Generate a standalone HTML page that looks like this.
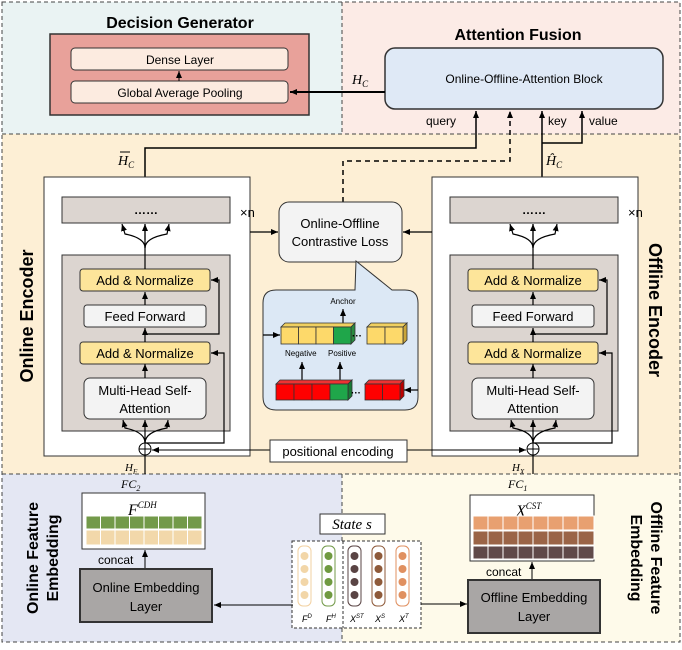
<!DOCTYPE html>
<html><head><meta charset="utf-8"><style>
body{margin:0;background:#fff}
svg text{font-family:"Liberation Sans",sans-serif}
.s{font-family:"Liberation Serif",serif;font-style:italic}
</style></head><body>
<svg width="682" height="645" viewBox="0 0 682 645" xmlns="http://www.w3.org/2000/svg">
<defs>
<marker id="a" markerWidth="8" markerHeight="8" refX="7" refY="4" orient="auto" markerUnits="userSpaceOnUse"><path d="M0,1 L7,4 L0,7z" fill="#000"/></marker>
</defs>
<rect x="2" y="2" width="340" height="132" fill="#eaf3f3"/>
<rect x="342" y="2" width="338" height="132" fill="#fcebe6"/>
<rect x="2" y="134" width="678" height="340" fill="#fdefd5"/>
<rect x="2" y="474" width="340" height="168" fill="#e4e7f3"/>
<rect x="342" y="474" width="338" height="168" fill="#fefaea"/>
<g fill="none" stroke="#444" stroke-dasharray="4,3" stroke-width="1">
<rect x="2" y="2" width="678" height="640"/>
<line x1="2" y1="134" x2="680" y2="134"/>
<line x1="342" y1="2" x2="342" y2="134"/>
<line x1="2" y1="474" x2="680" y2="474"/>
<line x1="342" y1="474" x2="342" y2="642"/>
</g>
<text x="180" y="28" font-size="16" font-weight="bold" text-anchor="middle">Decision Generator</text>
<rect x="50" y="34" width="259" height="81" fill="#e8a19a" stroke="#333" stroke-width="1.5"/>
<rect x="71" y="48" width="217" height="22" rx="4" fill="#fcebe0" stroke="#333"/>
<text x="180" y="64" font-size="12" text-anchor="middle">Dense Layer</text>
<rect x="71" y="81" width="217" height="22" rx="4" fill="#fcebe0" stroke="#333"/>
<text x="180" y="97" font-size="12" text-anchor="middle">Global Average Pooling</text>
<line x1="179" y1="81" x2="179" y2="71" stroke="#000" marker-end="url(#a)"/>
<text x="518" y="40" font-size="16" font-weight="bold" text-anchor="middle">Attention Fusion</text>
<rect x="385" y="48" width="278" height="61" rx="10" fill="#dfe9f6" stroke="#333" stroke-width="1.5"/>
<text x="524" y="83" font-size="12" text-anchor="middle">Online-Offline-Attention Block</text>
<line x1="385" y1="92" x2="290" y2="92" stroke="#000" stroke-width="2" marker-end="url(#a)"/>
<text x="352" y="84" font-size="14" class="s">H<tspan font-size="9" dy="3">C</tspan></text>
<text x="426" y="125" font-size="12">query</text>
<text x="548" y="125" font-size="12">key</text>
<text x="589" y="125" font-size="12">value</text>
<polyline points="145,177 145,148 476,148 476,111" fill="none" stroke="#000" stroke-width="1.5" marker-end="url(#a)"/>
<polyline points="343,202 343,161 510,161 510,111" fill="none" stroke="#000" stroke-width="1.5" stroke-dasharray="5,4" marker-end="url(#a)"/>
<polyline points="542,177 542,111" fill="none" stroke="#000" stroke-width="1.5" marker-end="url(#a)"/>
<polyline points="542,143 582,143 582,111" fill="none" stroke="#000" stroke-width="1.5" marker-end="url(#a)"/>
<text x="118" y="165" font-size="14" class="s">H<tspan font-size="9" dy="3">C</tspan></text>
<line x1="120" y1="152" x2="130" y2="152" stroke="#000"/>
<text x="546" y="165" font-size="14" class="s">Ĥ<tspan font-size="9" dy="3">C</tspan></text>

<g id="enc">
<rect x="44" y="177" width="206" height="279" fill="#fff" stroke="#333"/>
<rect x="62" y="197" width="168" height="26" fill="#dcd5d0" stroke="#333"/>
<text x="146" y="214" font-size="12" font-weight="bold" text-anchor="middle">……</text>
<rect x="62" y="255" width="168" height="176" fill="#dcd5d0" stroke="#333"/>
<rect x="80" y="269" width="130" height="22" rx="3" fill="#fde59a" stroke="#333"/>
<text x="145" y="285" font-size="13" text-anchor="middle">Add &amp; Normalize</text>
<rect x="84" y="305" width="122" height="22" rx="3" fill="#f3f3f3" stroke="#333"/>
<text x="145" y="321" font-size="13" text-anchor="middle">Feed Forward</text>
<rect x="80" y="342" width="130" height="22" rx="3" fill="#fde59a" stroke="#333"/>
<text x="145" y="358" font-size="13" text-anchor="middle">Add &amp; Normalize</text>
<rect x="84" y="378" width="122" height="41" rx="6" fill="#f3f3f3" stroke="#333"/>
<text x="145" y="395" font-size="13" text-anchor="middle">Multi-Head Self-</text>
<text x="145" y="413" font-size="13" text-anchor="middle">Attention</text>
<g fill="none" stroke="#000" stroke-width="1.2">
<line x1="145" y1="378" x2="145" y2="364" marker-end="url(#a)"/>
<line x1="145" y1="342" x2="145" y2="328" marker-end="url(#a)"/>
<line x1="145" y1="305" x2="145" y2="292" marker-end="url(#a)"/>
<line x1="145" y1="269" x2="145" y2="224" />
<path d="M145,248 Q145,238 125,234 L122,224" marker-end="url(#a)"/>
<path d="M145,248 Q145,238 167,234 L169,224" marker-end="url(#a)"/>
<line x1="145" y1="240" x2="145" y2="224" marker-end="url(#a)"/>
<polyline points="145,334 219,334 219,280 211,280" marker-end="url(#a)"/>
<polyline points="145,443 224,443 224,353 211,353" marker-end="url(#a)"/>
<line x1="145" y1="443" x2="145" y2="420" marker-end="url(#a)"/>
<path d="M145,443 Q145,432 125,428 L123,420" marker-end="url(#a)"/>
<path d="M145,443 Q145,432 167,428 L168,420" marker-end="url(#a)"/>
<line x1="145" y1="474" x2="145" y2="455"/>
</g>
<circle cx="145" cy="449" r="6" fill="#fff" stroke="#000"/>
<line x1="139" y1="449" x2="151" y2="449" stroke="#000"/><line x1="145" y1="443" x2="145" y2="455" stroke="#000"/>
<text x="240" y="217" font-size="13" font-family="Liberation Serif">×n</text>
</g>
<use href="#enc" transform="translate(388,0)"/>
<text transform="translate(33,316) rotate(-90)" font-size="18" font-weight="bold" text-anchor="middle">Online Encoder</text>
<text transform="translate(649,310) rotate(90)" font-size="18" font-weight="bold" text-anchor="middle">Offline Encoder</text>
<line x1="270" y1="450" x2="152" y2="450" stroke="#000" marker-end="url(#a)"/>
<line x1="407" y1="450" x2="526" y2="450" stroke="#000" marker-end="url(#a)"/>
<rect x="270" y="440" width="137" height="22" fill="#fff" stroke="#333"/>
<text x="338" y="456" font-size="13" text-anchor="middle">positional encoding</text>
<line x1="250" y1="232" x2="278" y2="232" stroke="#000" stroke-width="1.2" marker-end="url(#a)"/>
<line x1="432" y1="232" x2="403" y2="232" stroke="#000" stroke-width="1.2" marker-end="url(#a)"/>
<rect x="279" y="202" width="123" height="60" rx="10" fill="#f3f3f3" stroke="#333"/>
<text x="340" y="228" font-size="13" text-anchor="middle">Online-Offline</text>
<text x="340" y="246" font-size="13" text-anchor="middle">Contrastive Loss</text>
<path d="M280,290 L355,290 L356,261 L392,290 L405,290 Q418,290 418,303 L418,397 Q418,410 405,410 L276,410 Q263,410 263,397 L263,303 Q263,290 276,290Z" fill="#dce8f5" stroke="#333"/>
<text x="343" y="304" font-size="8" text-anchor="middle">Anchor</text>
<g stroke="#000" stroke-width="1.2" fill="none">
<line x1="343" y1="326" x2="343" y2="309" marker-end="url(#a)"/>
<line x1="302" y1="382" x2="302" y2="362" marker-end="url(#a)"/>
<line x1="340" y1="382" x2="340" y2="362" marker-end="url(#a)"/>
<line x1="263" y1="335" x2="280" y2="335" marker-end="url(#a)"/>
<line x1="418" y1="390" x2="404" y2="390" marker-end="url(#a)"/>
</g>
<text x="285" y="356" font-size="8">Negative</text>
<text x="328" y="356" font-size="8">Positive</text>
<g stroke="#333" stroke-width="0.8">
<path d="M281,327 L285,323 L355,323 L351,327Z" fill="#f0d060"/>
<path d="M351,327 L355,323 L355,340 L351,344Z" fill="#2a8a40"/>
<rect x="281" y="327" width="17.5" height="17" fill="#fdd96a"/><rect x="298.5" y="327" width="17.5" height="17" fill="#fdd96a"/><rect x="316" y="327" width="17.5" height="17" fill="#fdd96a"/><rect x="333.5" y="327" width="17.5" height="17" fill="#1fa64a"/>
<path d="M367,327 L371,323 L407,323 L403,327Z" fill="#f0d060"/>
<path d="M403,327 L407,323 L407,340 L403,344Z" fill="#c9a53a"/>
<rect x="367" y="327" width="18" height="17" fill="#fdd96a"/><rect x="385" y="327" width="18" height="17" fill="#fdd96a"/>
<path d="M276,384 L280,380 L352,380 L348,384Z" fill="#e33"/>
<path d="M348,384 L352,380 L352,396 L348,400Z" fill="#187a35"/>
<rect x="276" y="384" width="18" height="16" fill="#f00"/><rect x="294" y="384" width="18" height="16" fill="#f00"/><rect x="312" y="384" width="18" height="16" fill="#f00"/><rect x="330" y="384" width="18" height="16" fill="#1fa64a"/>
<path d="M365,384 L369,380 L404,380 L400,384Z" fill="#e33"/>
<path d="M400,384 L404,380 L404,396 L400,400Z" fill="#b00"/>
<rect x="365" y="384" width="17.5" height="16" fill="#f00"/><rect x="382.5" y="384" width="17.5" height="16" fill="#f00"/>
</g>
<text x="357" y="339" font-size="10" font-weight="bold" text-anchor="middle">···</text>
<text x="356" y="396" font-size="10" font-weight="bold" text-anchor="middle">···</text>

<text transform="translate(38,558) rotate(-90)" font-size="16" font-weight="bold" text-anchor="middle">Online Feature</text>
<text transform="translate(58,558) rotate(-90)" font-size="16" font-weight="bold" text-anchor="middle">Embedding</text>
<text x="125" y="471" font-size="11" class="s">H<tspan font-size="7" dy="3">F</tspan></text>
<text x="121" y="488" font-size="12" class="s">FC<tspan font-size="8" dy="3">2</tspan></text>
<rect x="82" y="493" width="123" height="56" fill="#fff" stroke="#333"/>
<text x="128" y="515" font-size="16" class="s">F<tspan font-size="9" dy="-7">CDH</tspan></text>
<g stroke="#fff" stroke-width="1">
<rect x="86" y="516" width="116" height="13" fill="#739a4a"/>
<rect x="86" y="530" width="116" height="15" fill="#f2d8aa"/>
<path d="M100.5,516v29M115,516v29M129.5,516v29M144,516v29M158.5,516v29M173,516v29M187.5,516v29"/>
</g>
<line x1="145" y1="569" x2="145" y2="550" stroke="#000" marker-end="url(#a)"/>
<text x="98" y="564" font-size="12">concat</text>
<rect x="80" y="569" width="132" height="53" fill="#a9a6a5" stroke="#333" stroke-width="2"/>
<text x="146" y="592" font-size="13" text-anchor="middle">Online Embedding</text>
<text x="146" y="611" font-size="13" text-anchor="middle">Layer</text>
<rect x="320" y="514" width="65" height="20" fill="#fff" stroke="#333"/>
<text x="352" y="529" font-size="15" class="s" text-anchor="middle">State s</text>
<rect x="292" y="541" width="129" height="87" fill="#fff" stroke="#333" stroke-dasharray="3,2"/>
<line x1="343" y1="541" x2="343" y2="628" stroke="#333" stroke-dasharray="3,2"/>
<g stroke-width="1">
<rect x="298" y="546" width="13" height="60" rx="5" fill="#fff" stroke="#f2d0a0"/>
<rect x="322" y="546" width="13" height="60" rx="5" fill="#fff" stroke="#739a4a"/>
<rect x="348" y="546" width="13" height="60" rx="5" fill="#fff" stroke="#5a4444"/>
<rect x="372" y="546" width="13" height="60" rx="5" fill="#fff" stroke="#8e5a3a"/>
<rect x="396" y="546" width="13" height="60" rx="5" fill="#fff" stroke="#e09060"/>
</g>
<g>
<g fill="#f2d6a8"><circle cx="304.5" cy="556" r="4"/><circle cx="304.5" cy="569" r="4"/><circle cx="304.5" cy="582" r="4"/><circle cx="304.5" cy="595" r="4"/></g>
<g fill="#6f9a40"><circle cx="328.5" cy="556" r="4"/><circle cx="328.5" cy="569" r="4"/><circle cx="328.5" cy="582" r="4"/><circle cx="328.5" cy="595" r="4"/></g>
<g fill="#5a4444"><circle cx="354.5" cy="556" r="4"/><circle cx="354.5" cy="569" r="4"/><circle cx="354.5" cy="582" r="4"/><circle cx="354.5" cy="595" r="4"/></g>
<g fill="#8e5a3a"><circle cx="378.5" cy="556" r="4"/><circle cx="378.5" cy="569" r="4"/><circle cx="378.5" cy="582" r="4"/><circle cx="378.5" cy="595" r="4"/></g>
<g fill="#e09060"><circle cx="402.5" cy="556" r="4"/><circle cx="402.5" cy="569" r="4"/><circle cx="402.5" cy="582" r="4"/><circle cx="402.5" cy="595" r="4"/></g>
</g>
<g font-size="9" class="s">
<text x="302" y="622">F<tspan font-size="6" dy="-4">D</tspan></text>
<text x="326" y="622">F<tspan font-size="6" dy="-4">H</tspan></text>
<text x="350" y="622">X<tspan font-size="6" dy="-4">ST</tspan></text>
<text x="375" y="622">X<tspan font-size="6" dy="-4">S</tspan></text>
<text x="399" y="622">X<tspan font-size="6" dy="-4">T</tspan></text>
</g>
<line x1="293" y1="605" x2="214" y2="605" stroke="#000" marker-end="url(#a)"/>
<line x1="421" y1="604" x2="467" y2="604" stroke="#000" marker-end="url(#a)"/>
<text transform="translate(651,558) rotate(90)" font-size="16" font-weight="bold" text-anchor="middle">Offline Feature</text>
<text transform="translate(631,558) rotate(90)" font-size="16" font-weight="bold" text-anchor="middle">Embedding</text>
<text x="512" y="471" font-size="11" class="s">H<tspan font-size="7" dy="3">X</tspan></text>
<text x="508" y="488" font-size="12" class="s">FC<tspan font-size="8" dy="3">1</tspan></text>
<rect x="470" y="495" width="124" height="66" fill="#fff" stroke="#333"/>
<text x="516" y="516" font-size="16" class="s">X<tspan font-size="9" dy="-7">CST</tspan></text>
<g stroke="#fff" stroke-width="1">
<rect x="473" y="516" width="121" height="14" fill="#e8a070"/>
<rect x="473" y="531" width="121" height="14" fill="#9a6447"/>
<rect x="473" y="546" width="121" height="13" fill="#604a4a"/>
<path d="M488,516v43M503,516v43M518,516v43M533,516v43M548,516v43M563,516v43M578,516v43"/>
</g>
<line x1="532" y1="580" x2="532" y2="562" stroke="#000" marker-end="url(#a)"/>
<text x="486" y="576" font-size="12">concat</text>
<rect x="468" y="580" width="132" height="53" fill="#a9a6a5" stroke="#333" stroke-width="2"/>
<text x="534" y="602" font-size="13" text-anchor="middle">Offline Embedding</text>
<text x="534" y="621" font-size="13" text-anchor="middle">Layer</text>
</svg>
</body></html>
